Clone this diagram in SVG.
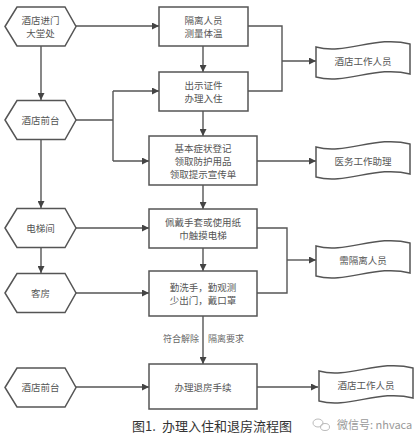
<svg xmlns="http://www.w3.org/2000/svg" xmlns:xlink="http://www.w3.org/1999/xlink" width="418" height="440" viewBox="0 0 418 440">
<style>
.s{fill:#fff;stroke:#555;stroke-width:1.5}
.c{fill:none;stroke:#555;stroke-width:1.4}
.t{font-family:"Noto Sans CJK SC","Noto Sans",sans-serif;font-size:9.5px;fill:#555;text-anchor:middle;dominant-baseline:central}
.l{font-family:"Noto Sans CJK SC","Noto Sans",sans-serif;font-size:9px;fill:#666;dominant-baseline:central}
</style>
<defs>
<marker id="ah" viewBox="0 0 10 10" refX="10" refY="5" markerWidth="8" markerHeight="7" markerUnits="userSpaceOnUse" orient="auto">
<path d="M0,0 L10,5 L0,10 Z" fill="#444"/>
</marker>
<path id="hex" d="M5,0 L17,-19.5 L65,-19.5 L76,0 L65,19.5 L17,19.5 Z"/>
<path id="doc" d="M0,-14 C30,-6 60,-26 94,-17 L94,13 C60,4 30,24 0,16 Z"/>
</defs>
<rect width="418" height="440" fill="#fff"/>

<g id="connectors">
<path class="c" d="M76,26 H159" marker-end="url(#ah)"/>
<path class="c" d="M41,46 V100" marker-end="url(#ah)"/>
<path class="c" d="M76,120 H113 M113,91 V161"/>
<path class="c" d="M113,91 H159" marker-end="url(#ah)"/>
<path class="c" d="M113,161 H149" marker-end="url(#ah)"/>
<path class="c" d="M41,140 V208" marker-end="url(#ah)"/>
<path class="c" d="M76,228 H149" marker-end="url(#ah)"/>
<path class="c" d="M41,248 V273" marker-end="url(#ah)"/>
<path class="c" d="M76,293 H149" marker-end="url(#ah)"/>
<path class="c" d="M76,387 H149" marker-end="url(#ah)"/>
<path class="c" d="M203,46 V72" marker-end="url(#ah)"/>
<path class="c" d="M203,111 V136" marker-end="url(#ah)"/>
<path class="c" d="M203,185 V209" marker-end="url(#ah)"/>
<path class="c" d="M203,248 V271" marker-end="url(#ah)"/>
<path class="c" d="M203,316 V364" marker-end="url(#ah)"/>
<path class="c" d="M248,26 H282 V91 H248"/>
<path class="c" d="M282,61 H316" marker-end="url(#ah)"/>
<path class="c" d="M257,161 H316" marker-end="url(#ah)"/>
<path class="c" d="M257,228 H287 V293 H257"/>
<path class="c" d="M287,260 H316" marker-end="url(#ah)"/>
<path class="c" d="M257,387 H318" marker-end="url(#ah)"/>
<text class="l" x="199" y="338" text-anchor="end">符合解除</text>
<text class="l" x="208" y="338">隔离要求</text>
</g>

<g id="h1"><use href="#hex" class="s" transform="translate(0,26.5)"/><text class="t" x="40.5" y="20">酒店进门</text><text class="t" x="40.5" y="33">大堂处</text></g>
<g id="h2"><use href="#hex" class="s" transform="translate(0,120)"/><text class="t" x="40.5" y="120">酒店前台</text></g>
<g id="h3"><use href="#hex" class="s" transform="translate(0,228)"/><text class="t" x="40.5" y="228">电梯间</text></g>
<g id="h4"><use href="#hex" class="s" transform="translate(0,293)"/><text class="t" x="40.5" y="293">客房</text></g>
<g id="h5"><use href="#hex" class="s" transform="translate(0,387.5)"/><text class="t" x="40.5" y="387">酒店前台</text></g>

<g id="b1"><rect class="s" x="159" y="7" width="89" height="39"/><text class="t" x="203.5" y="20">隔离人员</text><text class="t" x="203.5" y="33">测量体温</text></g>
<g id="b2"><rect class="s" x="159" y="72" width="89" height="39"/><text class="t" x="203.5" y="85">出示证件</text><text class="t" x="203.5" y="98">办理入住</text></g>
<g id="b3"><rect class="s" x="149" y="136" width="108" height="49"/><text class="t" x="203" y="148">基本症状登记</text><text class="t" x="203" y="161">领取防护用品</text><text class="t" x="203" y="174">领取提示宣传单</text></g>
<g id="b4"><rect class="s" x="149" y="209" width="108" height="39"/><text class="t" x="203" y="222">佩戴手套或使用纸</text><text class="t" x="203" y="235">巾触摸电梯</text></g>
<g id="b5"><rect class="s" x="149" y="271" width="108" height="45"/><text class="t" x="203" y="287">勤洗手，勤观测</text><text class="t" x="203" y="300">少出门，戴口罩</text></g>
<g id="b6"><rect class="s" x="149" y="364" width="108" height="45"/><text class="t" x="203" y="387">办理退房手续</text></g>

<g id="d1"><use href="#doc" class="s" transform="translate(316,61)"/><text class="t" x="363" y="61">酒店工作人员</text></g>
<g id="d2"><use href="#doc" class="s" transform="translate(316,161)"/><text class="t" x="363" y="161">医务工作助理</text></g>
<g id="d3"><use href="#doc" class="s" transform="translate(316,260)"/><text class="t" x="363" y="260">需隔离人员</text></g>
<g id="d4"><use href="#doc" class="s" transform="translate(319,385)"/><text class="t" x="366" y="385">酒店工作人员</text></g>

<g id="caption">
<text x="132" y="425" font-family="Noto Sans CJK SC, sans-serif" font-size="13" fill="#333" dominant-baseline="central">图1.</text>
<text x="162" y="425" font-family="Noto Sans CJK SC, sans-serif" font-size="13" fill="#333" dominant-baseline="central">办理入住和退房流程图</text>
</g>
<g id="watermark">
<ellipse cx="318" cy="423" rx="5" ry="4" fill="none" stroke="#bbb" stroke-width="1"/>
<ellipse cx="325" cy="427" rx="4.5" ry="3.5" fill="none" stroke="#bbb" stroke-width="1"/>
<text x="337" y="424" font-family="Noto Sans CJK SC, sans-serif" font-size="11" fill="#999" dominant-baseline="central">微信号: nhvaca</text>
</g>
</svg>
